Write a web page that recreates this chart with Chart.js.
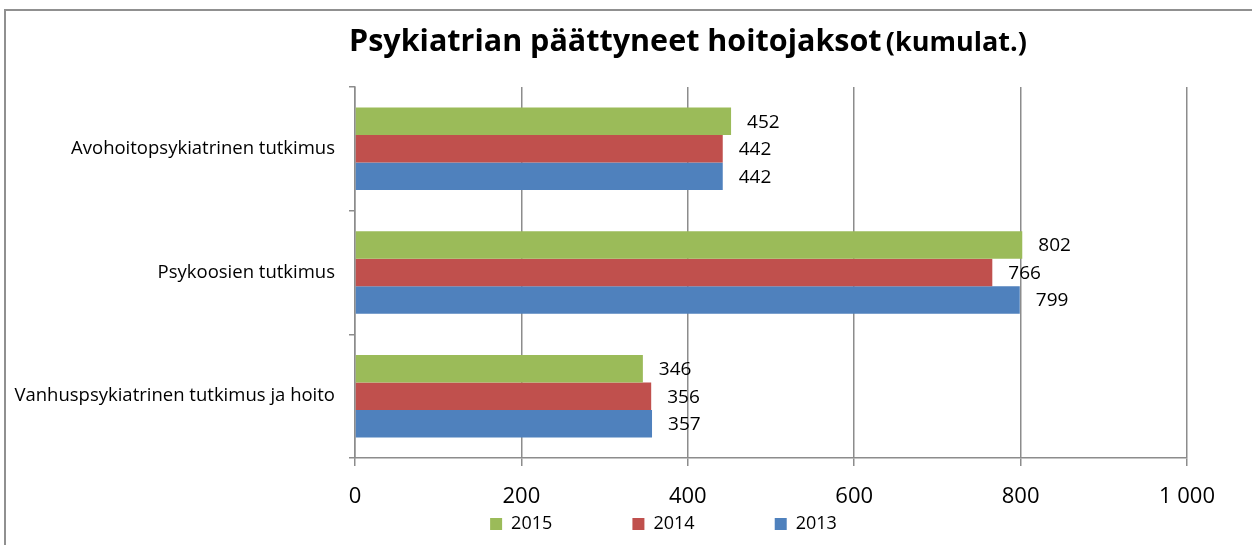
<!DOCTYPE html>
<html>
<head>
<meta charset="utf-8">
<script src="https://cdn.jsdelivr.net/npm/chart.js"></script>
<style>
  html, body { margin: 0; padding: 0; background: #fff; overflow: hidden; }
  #frame { position: absolute; left: 4px; top: 9px; width: 2000px; height: 2000px; border: 2px solid #909090; }
  #title { position: absolute; left: 349px; top: 24px; line-height: 1; white-space: nowrap;
           font-family: 'Open Sans', sans-serif; font-weight: bold; color: #000; }
  #title .big { font-size: 30.5px; }
  #title .small { font-size: 27px; }
  #wrap { position: absolute; left: 0; top: 0; width: 1252px; height: 545px; }
</style>
</head>
<body>
<div id="frame"></div>
<div id="wrap"><canvas id="chart1"></canvas></div>
<div id="title"><span class="big">Psykiatrian päättyneet hoitojaksot</span> <span class="small">(kumulat.)</span></div>
<script>
const categories = ['Avohoitopsykiatrinen tutkimus', 'Psykoosien tutkimus', 'Vanhuspsykiatrinen tutkimus ja hoito'];
const seriesNames = ['2015', '2014', '2013'];
const values2015 = [452, 802, 346];
const values2014 = [442, 766, 356];
const values2013 = [442, 799, 357];
const seriesColors = ['#9BBB59', '#C0504D', '#4F81BD'];
const xMax = 1000;
const xStep = 200;

const font = "'Open Sans', sans-serif";

// numbers next to the bar ends
const barLabels = {
  id: 'barLabels',
  afterDatasetsDraw(chart) {
    const ctx = chart.ctx;
    ctx.save();
    ctx.font = '19px ' + font;
    ctx.fillStyle = '#000';
    ctx.textAlign = 'left';
    ctx.textBaseline = 'middle';
    chart.data.datasets.forEach((ds, i) => {
      chart.getDatasetMeta(i).data.forEach((bar, j) => {
        ctx.fillText(ds.data[j], bar.x + 16, bar.y + 1);
      });
    });
    ctx.restore();
  }
};

// legend sits a bit right of the canvas centre in the original
const shiftLegend = {
  id: 'shiftLegend',
  afterLayout(chart) {
    chart.legend.left += 70;
    chart.legend.right += 70;
  }
};

const allValues = [values2015, values2014, values2013];

const chartData = {
  labels: categories,
  datasets: seriesNames.map((name, i) => ({
    label: name,
    data: allValues[i],
    backgroundColor: seriesColors[i],
    borderWidth: 0,
    categoryPercentage: 0.667,
    barPercentage: 1.0
  }))
};

const ctx = document.getElementById('chart1').getContext('2d');
const myChart = new Chart(ctx, {
  type: 'bar',
  data: chartData,
  plugins: [barLabels, shiftLegend],
  options: {
    indexAxis: 'y',
    responsive: true,
    maintainAspectRatio: false,
    animation: false,
    layout: { padding: { left: 0, right: 65, top: 87, bottom: 2 } },
    plugins: {
      title: { display: false },
      tooltip: { enabled: false },
      legend: {
        position: 'bottom',
        labels: {
          boxWidth: 12,
          boxHeight: 12,
          padding: 10,
          color: '#000',
          font: { family: font, size: 18 },
          generateLabels(chart) {
            const items = Chart.defaults.plugins.legend.labels.generateLabels(chart);
            items.forEach((it, i) => {
              it.lineWidth = 0;
              if (i < items.length - 1) it.text = it.text + ' '.repeat(15);
            });
            return items;
          }
        }
      }
    },
    scales: {
      x: {
        min: 0,
        max: xMax,
        ticks: {
          stepSize: xStep,
          padding: 18,
          color: '#000',
          font: { family: font, size: 22 },
          callback: v => String(v).replace(/\B(?=(\d{3})+(?!\d))/g, ' ')
        },
        grid: { color: '#8c8c8c', lineWidth: 1.5, tickLength: 8 },
        border: { display: true, color: '#8c8c8c', width: 1.5 },
        afterFit: s => { s.height = 47; }
      },
      y: {
        ticks: {
          padding: 14,
          color: '#000',
          font: { family: font, size: 18.5 }
        },
        grid: { drawOnChartArea: false, color: '#8c8c8c', lineWidth: 1.5, tickLength: 6 },
        border: { display: true, color: '#8c8c8c', width: 1.5 },
        afterFit: s => { s.width = 355; }
      }
    }
  }
});
</script>
</body>
</html>
